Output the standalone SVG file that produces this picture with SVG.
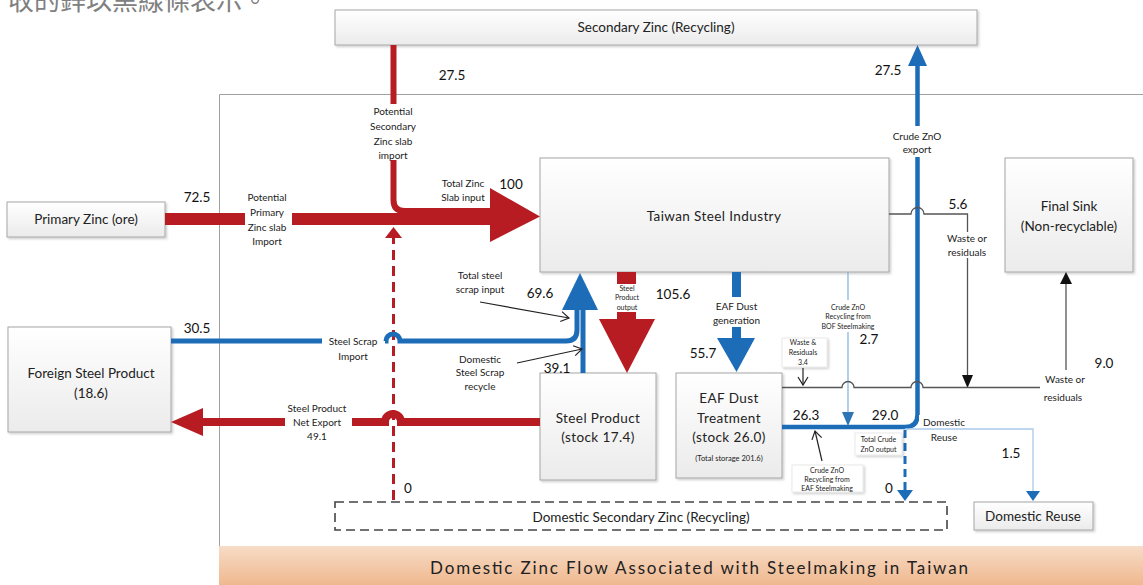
<svg xmlns="http://www.w3.org/2000/svg" width="1143" height="585" viewBox="0 0 1143 585">
<defs>
<linearGradient id="boxg" x1="0" y1="0" x2="0" y2="1">
<stop offset="0" stop-color="#ffffff"/><stop offset="1" stop-color="#ebebeb"/>
</linearGradient>
<linearGradient id="bandg" x1="0" y1="0" x2="0" y2="1">
<stop offset="0" stop-color="#f7dcc6"/><stop offset="1" stop-color="#efb88f"/>
</linearGradient>
<filter id="sh" x="-10%" y="-10%" width="125%" height="130%">
<feDropShadow dx="1.5" dy="1.5" stdDeviation="1" flood-color="#000" flood-opacity="0.2"/>
</filter>
<marker id="open" markerWidth="12" markerHeight="12" refX="9" refY="6" orient="auto" markerUnits="userSpaceOnUse">
<path d="M1,1 L9,6 L1,11" fill="none" stroke="#222" stroke-width="1.2"/>
</marker>
<style>
.box{fill:url(#boxg);stroke:#a6a6a6;stroke-width:1;filter:url(#sh)}
.tag{fill:#fff;stroke:#e4e4e4;stroke-width:0.8;filter:url(#sh)}
.t{font-family:Lato,"Liberation Sans",sans-serif;fill:#222;text-anchor:middle}
.big{font-size:13.5px}
.num{font-size:13.5px;fill:#111}
.lbl{font-size:10px}
.sm{font-size:7px}
.r{fill:#b71c22}
.b{fill:#1c6cb8}
.rs{fill:none;stroke:#b71c22}
.bs{fill:none;stroke:#1c6cb8}
.ks{fill:none;stroke:#555;stroke-width:1.3}
.thin{fill:none;stroke:#222;stroke-width:1.2;marker-end:url(#open)}
</style>
</defs>

<text x="8" y="10" font-size="26" fill="#808080" font-family="'Noto Sans CJK TC','Noto Sans CJK SC',sans-serif">收的鋅以黑線條表示。</text>

<path d="M1143,94.5 H219.5 V546" fill="none" stroke="#a0a0a0" stroke-width="1"/>
<g id="band">
<rect x="219" y="546" width="924" height="39" fill="url(#bandg)"/>
<text class="t" x="699" y="574" font-size="17" textLength="538" lengthAdjust="spacing">Domestic Zinc Flow Associated with Steelmaking in Taiwan</text>
</g>

<g id="n-secondary-zinc"><rect class="box" x="335" y="10" width="642" height="35"/><text class="t big" x="656" y="31.5">Secondary Zinc (Recycling)</text></g>
<g id="n-primary-zinc"><rect class="box" x="7" y="202" width="158" height="35"/><text class="t big" x="86" y="224">Primary Zinc (ore)</text></g>
<g id="n-foreign"><rect class="box" x="8" y="327" width="163" height="105"/><text class="t big" x="91" y="378">Foreign Steel Product</text><text class="t big" x="91" y="398">(18.6)</text></g>
<g id="n-taiwan-steel"><rect class="box" x="540" y="158" width="349" height="114"/><text class="t big" x="714" y="220.5" letter-spacing="0.4">Taiwan Steel Industry</text></g>
<g id="n-final-sink"><rect class="box" x="1005" y="158" width="128" height="114"/><text class="t big" x="1069" y="210.5">Final Sink</text><text class="t big" x="1069" y="230.5">(Non-recyclable)</text></g>
<g id="n-steel-product"><rect class="box" x="540" y="373" width="116" height="107"/><text class="t big" x="598" y="422.5" letter-spacing="0.4">Steel Product</text><text class="t big" x="598" y="441.5" letter-spacing="0.4">(stock 17.4)</text></g>
<g id="n-eaf"><rect class="box" x="676" y="373" width="106" height="105"/><text class="t big" x="729" y="402.5" letter-spacing="0.4">EAF Dust</text><text class="t big" x="729" y="422.5" letter-spacing="0.4">Treatment</text><text class="t big" x="729" y="441.5" letter-spacing="0.4">(stock 26.0)</text><text class="t" font-size="7.5" x="729" y="461">(Total storage 201.6)</text></g>
<g id="n-domestic-secondary"><rect x="335" y="502" width="612" height="28" fill="#fff" stroke="#444" stroke-width="1.6" stroke-dasharray="9,5"/><text class="t big" x="641" y="521.5">Domestic Secondary Zinc (Recycling)</text></g>
<g id="n-domestic-reuse"><rect class="box" x="974" y="502" width="119" height="28"/><text class="t big" x="1033" y="520.5">Domestic Reuse</text></g>

<g id="connectors">
<rect class="r" x="165" y="213" width="80" height="12"/>
<rect class="r" x="292" y="213" width="118" height="12"/>
<path class="r" d="M405,208 H490 V188 L540,216.5 L490,242 V225 H405 Z"/>
<path class="rs" stroke-width="6" d="M393.5,45 V104 M393.5,160 V200 Q393.5,211 404.5,211 H420"/>
<path class="rs" stroke-width="3" stroke-dasharray="10,6" d="M393.5,500 V238"/>
<polygon class="r" points="385,238 402,238 393.5,227"/>
<polygon class="r" points="203,408 203,436 171,422"/>
<rect class="r" x="202" y="418" width="83" height="8"/>
<path class="rs" stroke-width="8" d="M352,422 H385 a8,8 0 0 1 16,0 H540"/>
<rect class="r" x="617" y="272" width="19" height="12"/>
<rect class="r" x="617" y="312" width="19" height="8"/>
<polygon class="r" points="599,319 655,319 627,373"/>

<path class="bs" stroke-width="5" d="M171,341 H322 M385,341 H386 a7,7 0 0 1 14,0 H566 Q577,341 577,330 V305"/>
<path class="bs" stroke-width="5" d="M583,373 V305"/>
<polygon class="b" points="580,273 598,310 562,310"/>
<rect class="b" x="732" y="272" width="9" height="25"/>
<rect class="b" x="732" y="327" width="9" height="12"/>
<polygon class="b" points="717,338 755,338 736.5,372"/>
<path class="bs" stroke-width="4.5" d="M782,427 H905 Q917.5,427 917.5,415 V157 M917.5,126 V64"/>
<polygon class="b" points="908,66 927,66 917.5,45"/>
<path class="bs" stroke-width="3" stroke-dasharray="8,5" d="M905,430 V491"/>
<polygon class="b" points="897,490 913,490 905,501"/>
<path fill="none" stroke="#7fb0e0" stroke-width="1.2" d="M848,272 V300 M848,332 V413"/>
<polygon fill="#2e75b6" points="842,412 854,412 848,426"/>
<path fill="none" stroke="#a9c9ea" stroke-width="1.3" d="M905,429 H1033 V492"/>
<polygon class="b" points="1026,491 1040,491 1033,501"/>

<path class="ks" d="M889,214 H911 a6,6 0 0 1 13,0 H967.5 V232 M967.5,258 V376"/>
<polygon fill="#111" points="962,375 973,375 967.5,388"/>
<path class="ks" d="M782,387.5 H842 a6,6 0 0 1 12,0 H911 a6,6 0 0 1 12,0 H1040"/>
<path class="ks" d="M1066,370 V283"/>
<polygon fill="#111" points="1060,284 1072,284 1066,272"/>

<path class="thin" d="M480,302 L569,318"/>
<path class="thin" d="M517,363 L582,349"/>
<path class="thin" d="M803,368 V385"/>
<path class="thin" d="M822,461 L815,431"/>
</g>

<g id="labels">
<text class="t num" x="452" y="80">27.5</text>
<text class="t num" x="197" y="202">72.5</text>
<text class="t num" x="511" y="189">100</text>
<text class="t num" x="540" y="298">69.6</text>
<text class="t num" x="673" y="299">105.6</text>
<text class="t num" x="557" y="373">39.1</text>
<text class="t num" x="703" y="358">55.7</text>
<text class="t num" x="197" y="333">30.5</text>
<text class="t num" x="408" y="493">0</text>
<text class="t num" x="889" y="493">0</text>
<text class="t num" x="888" y="75">27.5</text>
<text class="t num" x="958" y="209">5.6</text>
<text class="t num" x="869" y="344">2.7</text>
<text class="t num" x="806" y="420">26.3</text>
<text class="t num" x="885" y="420">29.0</text>
<text class="t num" x="1104" y="368">9.0</text>
<text class="t num" x="1011" y="458">1.5</text>

<g class="t lbl">
<text x="267" y="200.5">Potential</text><text x="267" y="215.5">Primary</text><text x="267" y="230.5">Zinc slab</text><text x="267" y="244.5">Import</text>
<text x="393" y="114.5">Potential</text><text x="393" y="129.5">Secondary</text><text x="393" y="144.5">Zinc slab</text><text x="393" y="158.5">import</text>
<text x="463" y="186.5">Total Zinc</text><text x="463" y="200.5">Slab input</text>
<text x="480" y="278.5">Total steel</text><text x="480" y="292.5">scrap input</text>
<text x="480" y="362.5">Domestic</text><text x="480" y="375.5">Steel Scrap</text><text x="480" y="389.5">recycle</text>
<text x="353" y="344.5">Steel Scrap</text><text x="353" y="359.5">Import</text>
<text x="317" y="411.5">Steel Product</text><text x="317" y="425.5">Net Export</text><text x="317" y="439.5">49.1</text>
<text x="736.5" y="309.5">EAF Dust</text><text x="736.5" y="323.5">generation</text>
<text x="917" y="139.5">Crude ZnO</text><text x="917" y="152.5">export</text>
<text x="967" y="241.5">Waste or</text><text x="967" y="255.5">residuals</text>
<text x="1065" y="382.5">Waste or</text><text x="1063" y="400.5">residuals</text>
</g>
<rect x="919" y="415" width="49" height="12" fill="#fff"/>
<text class="t lbl" x="944" y="425.5">Domestic</text><text class="t lbl" x="944" y="440.5">Reuse</text>

<g class="t sm">
<text x="627" y="290.5">Steel</text><text x="627" y="299.5">Product</text><text x="627" y="309.5">output</text>
<text x="848" y="309.5">Crude ZnO</text><text x="848" y="319">Recycling from</text><text x="848" y="328.5">BOF Steelmaking</text>
</g>
<g id="tag-waste"><rect class="tag" x="782" y="338" width="45" height="29"/><text class="t sm" x="803" y="344.5">Waste &amp;</text><text class="t sm" x="803" y="354.5">Residuals</text><text class="t sm" x="803" y="364.5">3.4</text></g>
<g id="tag-eaf"><rect class="tag" x="792" y="465" width="71" height="27"/><text class="t sm" x="827" y="472.5">Crude ZnO</text><text class="t sm" x="827" y="481.5">Recycling from</text><text class="t sm" x="827" y="490.5">EAF Steelmaking</text></g>
<g id="tag-total"><rect class="tag" x="855" y="433" width="47" height="22"/><text class="t sm" x="878.5" y="441.5">Total Crude</text><text class="t sm" x="878.5" y="451.5">ZnO output</text></g>
</g>
</svg>
